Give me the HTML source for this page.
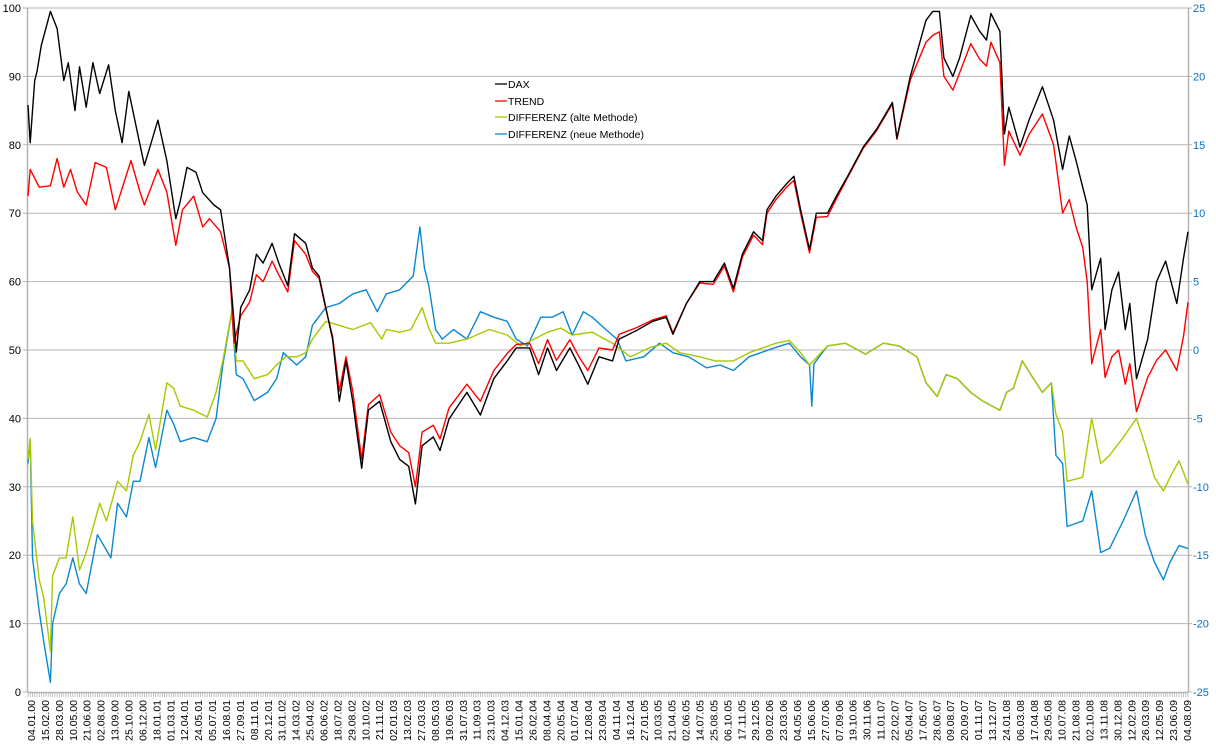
<!DOCTYPE html>
<html><head><meta charset="utf-8">
<style>
html,body{margin:0;padding:0;background:#fff;}
svg{display:block;font-family:"Liberation Sans",Arial,sans-serif;}
</style></head>
<body>
<svg id="chart" width="1216" height="746" viewBox="0 0 1216 746" xmlns="http://www.w3.org/2000/svg">
<g id="grid"></g>
<g id="yleft"></g>
<g id="yright"></g>
<g id="xaxis"></g>
<g id="series"></g>
<g id="legend">
  <line x1="495" y1="84" x2="507" y2="84" stroke="#000" stroke-width="1.3"/>
  <text x="508" y="88" font-size="10.5" fill="#000">DAX</text>
  <line x1="495" y1="101" x2="507" y2="101" stroke="#ff0000" stroke-width="1.3"/>
  <text x="508" y="105" font-size="10.5" fill="#000">TREND</text>
  <line x1="495" y1="117" x2="507" y2="117" stroke="#a8c800" stroke-width="1.3"/>
  <text x="508" y="121" font-size="10.5" fill="#000">DIFFERENZ (alte Methode)</text>
  <line x1="495" y1="134" x2="507" y2="134" stroke="#0a88d0" stroke-width="1.3"/>
  <text x="508" y="138" font-size="10.5" fill="#000">DIFFERENZ (neue Methode)</text>
</g>
</svg>
<script>
const dateLabels = ["04.01.00","15.02.00","28.03.00","10.05.00","21.06.00","02.08.00","13.09.00","25.10.00","06.12.00","18.01.01","01.03.01","12.04.01","24.05.01","05.07.01","16.08.01","27.09.01","08.11.01","20.12.01","31.01.02","14.03.02","25.04.02","06.06.02","18.07.02","29.08.02","10.10.02","21.11.02","02.01.03","13.02.03","27.03.03","08.05.03","19.06.03","31.07.03","11.09.03","23.10.03","04.12.03","15.01.04","26.02.04","08.04.04","20.05.04","01.07.04","12.08.04","23.09.04","04.11.04","16.12.04","27.01.05","10.03.05","21.04.05","02.06.05","14.07.05","25.08.05","06.10.05","17.11.05","29.12.05","09.02.06","23.03.06","04.05.06","15.06.06","27.07.06","07.09.06","19.10.06","30.11.06","11.01.07","22.02.07","05.04.07","17.05.07","28.06.07","09.08.07","20.09.07","01.11.07","13.12.07","24.01.08","06.03.08","17.04.08","29.05.08","10.07.08","21.08.08","02.10.08","13.11.08","30.12.08","12.02.09","26.03.09","12.05.09","23.06.09","04.08.09"];
const leftTicks = [0,10,20,30,40,50,60,70,80,90,100];
const rightTicks = [-25,-20,-15,-10,-5,0,5,10,15,20,25];

const daxWeeks = [0,1,3,4,6,10,13,16,18,21,23,26,29,32,36,39,42,45,49,52,55,58,62,66,68,71,75,78,83,86,90,92,93,95,99,102,105,109,112,116,119,124,127,130,133,136,139,142,145,149,152,157,162,166,170,173,176,181,184,188,196,202,208,214,218,224,228,232,236,242,246,250,255,261,264,272,279,285,288,294,300,306,311,315,319,324,328,330,334,339,342,345,349,352,357,361,366,373,379,386,388,394,401,404,407,409,413,416,421,425,428,430,434,436,438,443,447,453,458,462,465,468,471,473,475,479,481,484,487,490,492,495,500,504,508,513,516,518];
const daxValues = [85.8,80.3,89.4,90.7,94.6,99.5,97,89.4,92,85,91.4,85.5,92,87.5,91.7,85,80.3,87.8,81.6,77,80.3,83.6,77.7,69.2,71.8,76.7,76,73,71.2,70.5,62,54.2,49.7,56.2,58.8,64,62.7,65.6,62.7,59.4,67,65.6,62,60.8,56.2,51.6,42.5,48.4,42.5,32.7,41.2,42.5,36.6,34,33,27.5,36,37.3,35.3,39.9,43.8,40.5,45.8,48.4,50.3,50.3,46.4,50.3,47,50.3,47.7,45,49,48.4,51.6,52.9,54.2,54.8,52.3,56.8,60,60,62.7,59,64,67.3,66,70.5,72.5,74.4,75.4,70.5,64.7,70,70,72.5,75.4,79.7,82.3,86.2,81,90,98.2,99.5,99.5,92.7,90,92.7,98.9,96.6,95.3,99.2,96.6,81.6,85.5,79.7,83.6,88.5,83.6,76.4,81.3,77.7,73.8,71.2,58.8,63.4,53,58.8,61.4,53,56.8,45.8,51.6,60,63,56.8,63.4,67.3];

const trendWeeks = [0,1,5,10,13,16,19,22,26,30,35,39,46,50,52,58,62,66,69,74,78,81,86,90,92,95,99,102,105,109,112,116,119,124,127,130,133,136,139,142,145,149,152,157,162,166,170,173,176,181,184,188,196,202,208,214,218,224,228,232,236,242,246,250,255,261,264,272,279,285,288,294,300,306,311,315,319,324,328,330,334,339,342,345,349,352,357,361,366,373,379,386,388,394,401,404,407,409,413,416,421,425,428,430,434,436,438,443,447,453,458,462,465,468,471,473,475,479,481,484,487,490,492,495,500,504,508,513,516,518];
const trendValues = [72.5,76.4,73.8,74,78,73.8,76.4,73.1,71.2,77.4,76.7,70.5,77.7,73.1,71.2,76.4,73.1,65.3,70.5,72.5,68,69.2,67.3,62,51,55,57,61,60,63,61,58.5,66,64,61.5,60.5,56,52,44,49,44,34,42,43.5,38,36,35,30,38,39,37,41.5,45,42.5,47,49.5,50.8,51,48,51.5,48.5,51.5,49,47,50.3,50,52.3,53.3,54.4,55,52.5,56.8,59.8,59.6,62.3,58.5,63.6,66.8,65.4,70,72,73.9,74.8,70,64.2,69.4,69.5,72.1,75.2,79.5,82.1,86,80.8,89.5,95,96,96.5,90,88,90.5,94.8,92.5,91.5,95,92,77,82,78.5,81.5,84.5,80,70,72,68,65,60,48,53,46,49,50,45,48,41,46,48.5,50,47,52,57];

const altWeeks = [0,1,2,5,7,10,11,14,17,20,23,26,32,35,40,44,47,50,54,57,62,65,68,74,80,84,87,91,93,96,101,107,111,115,120,124,127,133,139,145,153,158,160,166,171,176,179,182,188,196,206,214,220,226,232,238,243,252,261,269,278,285,291,300,307,315,322,334,340,345,349,357,365,374,382,389,397,401,406,410,415,421,426,434,437,440,444,449,453,457,459,462,464,471,475,479,483,489,495,499,503,507,510,514,518];
const altValues = [-8,-6.5,-12.5,-16.8,-18.1,-22,-16.5,-15.2,-15.2,-12.2,-16.1,-14.8,-11.2,-12.5,-9.6,-10.3,-7.7,-6.7,-4.7,-7.3,-2.4,-2.8,-4.1,-4.4,-4.9,-3.1,-0.8,2.8,-0.8,-0.8,-2.1,-1.8,-1.1,-0.5,-0.5,-0.2,0.8,2.1,1.8,1.5,2,0.8,1.5,1.3,1.5,3.1,1.6,0.5,0.5,0.8,1.5,1.1,0.3,0.8,1.3,1.6,1.1,1.3,0.5,-0.5,0.2,0.5,-0.2,-0.5,-0.8,-0.8,-0.2,0.5,0.7,-0.2,-1.1,0.3,0.5,-0.3,0.5,0.3,-0.5,-2.4,-3.4,-1.8,-2.1,-3.1,-3.7,-4.4,-3.1,-2.8,-0.8,-2.1,-3.1,-2.4,-4.7,-6,-9.6,-9.3,-5,-8.3,-7.7,-6.4,-5,-7,-9.3,-10.3,-9.3,-8.1,-9.8];

const neuWeeks = [0,1,2,5,7,10,11,14,17,20,23,26,31,37,40,44,47,50,54,57,62,65,68,74,80,84,87,91,93,96,101,107,111,114,120,124,127,133,139,145,151,156,160,166,172,175,177,179,182,185,190,196,202,208,214,218,223,229,234,239,243,248,252,258,263,267,275,282,288,295,303,309,315,322,334,340,345,349,350,351,357,365,374,382,389,397,401,406,410,415,421,426,434,437,440,444,449,453,457,459,462,464,471,475,479,483,489,495,499,503,507,510,514,518];
const neuValues = [-8.3,-6.5,-15.2,-19.1,-21.3,-24.3,-20,-17.8,-17.1,-15.2,-17.1,-17.8,-13.5,-15.2,-11.2,-12.2,-9.6,-9.6,-6.4,-8.6,-4.4,-5.4,-6.7,-6.4,-6.7,-5,-1.1,2.8,-1.8,-2.1,-3.7,-3.1,-2.1,-0.2,-1.1,-0.5,1.8,3.1,3.4,4.1,4.4,2.8,4.1,4.4,5.4,9,6,4.7,1.5,0.8,1.5,0.8,2.8,2.4,2.1,0.8,0.3,2.4,2.4,2.8,1.1,2.8,2.4,1.5,0.8,-0.8,-0.5,0.5,-0.2,-0.5,-1.3,-1.1,-1.5,-0.5,0.2,0.5,-0.5,-1.1,-4.1,-1,0.3,0.5,-0.3,0.5,0.3,-0.5,-2.4,-3.4,-1.8,-2.1,-3.1,-3.7,-4.4,-3.1,-2.8,-0.8,-2.1,-3.1,-2.4,-7.7,-8.3,-12.9,-12.5,-10.3,-14.8,-14.5,-12.5,-10.3,-13.6,-15.5,-16.8,-15.5,-14.3,-14.5];

const NS = "http://www.w3.org/2000/svg";
const X0 = 28, X1 = 1188, Y0 = 692, Y1 = 8, WMAX = 518;
function xScale(w){ return X0 + (w / WMAX) * (X1 - X0); }
function labelX(i){ return 31 + i * (1156 / (dateLabels.length - 1)); }
function yLeft(v){ return Y0 - (v / 100) * (Y0 - Y1); }
function yRight(v){ return Y0 - ((v + 25) / 50) * (Y0 - Y1); }
function mk(tag, attrs, parent){ const e = document.createElementNS(NS, tag); for (const k in attrs) e.setAttribute(k, attrs[k]); parent.appendChild(e); return e; }

const grid = document.getElementById('grid');
const yl = document.getElementById('yleft');
const yr = document.getElementById('yright');
const xa = document.getElementById('xaxis');
const sg = document.getElementById('series');

leftTicks.forEach(v => {
  const y = yLeft(v);
  if (v > 0) {
    const g = mk('line', {x1: X0, x2: X1, y1: y, y2: y, stroke: '#b4b4b4', 'stroke-width': 1}, grid);
    
    
  }
  const t = mk('text', {x: 21, y: y + 4, 'font-size': 11, 'text-anchor': 'end', fill: '#000'}, yl);
  t.textContent = v;
  
  
  const tk = mk('line', {x1: 23, x2: X0, y1: y, y2: y, stroke: '#b4b4b4'}, yl);
  
  
});
const la = mk('line', {x1: X0 - 0.5, x2: X0 - 0.5, y1: Y1, y2: Y0, stroke: '#b4b4b4', 'stroke-width': 1.5}, yl);



rightTicks.forEach(v => {
  const y = yRight(v);
  const t = mk('text', {x: 1193, y: y + 4, 'font-size': 11, 'text-anchor': 'start', fill: '#0a70c0'}, yr);
  t.textContent = v;
  
  
  const tk = mk('line', {x1: X1, x2: X1 + 4, y1: y, y2: y, stroke: '#b4b4b4'}, yr);
  
  
});
const ra = mk('line', {x1: X1 + 0.5, x2: X1 + 0.5, y1: Y1, y2: Y0, stroke: '#b4b4b4', 'stroke-width': 1.5}, yr);



const xl = mk('line', {x1: X0, x2: X1, y1: Y0 + 0.5, y2: Y0 + 0.5, stroke: '#b4b4b4', 'stroke-width': 1.5}, xa);


let tickPath = '';
for (let w = 0; w <= WMAX; w++) { const x = xScale(w).toFixed(1); tickPath += `M${x} ${Y0}V${Y0 + 5}`; }
const tp = mk('path', {d: tickPath, stroke: '#b4b4b4', 'stroke-width': 0.8, fill: 'none'}, xa);



dateLabels.forEach((lab, i) => {
  const x = labelX(i);
  const t = mk('text', {x: 0, y: 0, 'font-size': 10.5, 'text-anchor': 'end', fill: '#000', transform: `translate(${x + 4},${700}) rotate(-90)`}, xa);
  t.textContent = lab;
  
  
});

function drawLine(weeks, vals, yfn, color, name){
  let d = '';
  weeks.forEach((w, i) => { d += (i ? 'L' : 'M') + xScale(w).toFixed(1) + ' ' + yfn(vals[i]).toFixed(1); });
  const p = mk('path', {d: d, stroke: color, 'stroke-width': 1.4, fill: 'none', 'stroke-linejoin': 'round'}, sg);
  
  
}
drawLine(neuWeeks, neuValues, yRight, '#0a88d0', 'differenz-neue-methode-line');
drawLine(altWeeks, altValues, yRight, '#a8c800', 'differenz-alte-methode-line');
drawLine(trendWeeks, trendValues, yLeft, '#ff0000', 'trend-line');
drawLine(daxWeeks, daxValues, yLeft, '#000000', 'dax-line');
</script>
</body></html>
